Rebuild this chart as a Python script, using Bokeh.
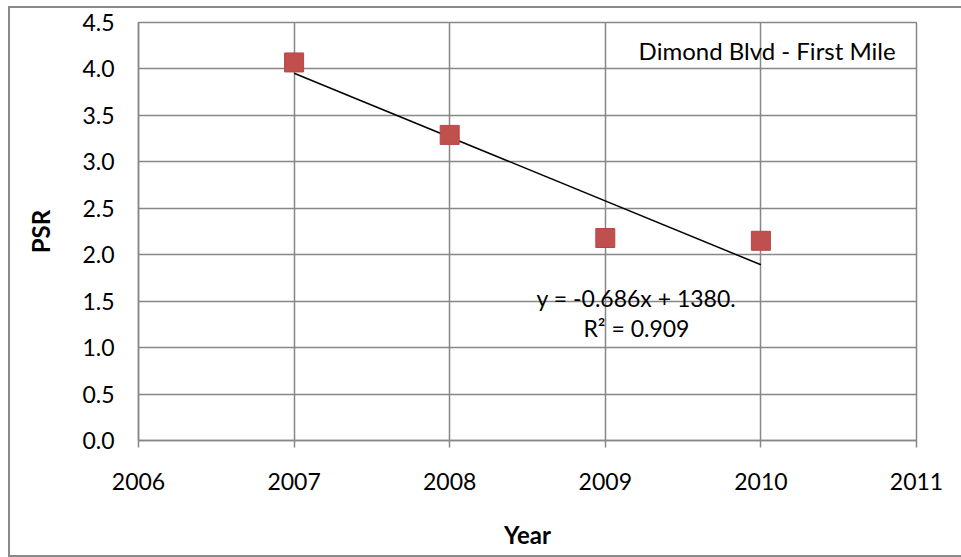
import numpy as np
from bokeh.plotting import figure
from bokeh.models import Label, Range1d, FixedTicker, NumeralTickFormatter
from bokeh.embed import file_html
from bokeh.resources import INLINE

# ---- data ----
years = [2007, 2008, 2009, 2010]
psr = [4.07, 3.29, 2.18, 2.15]
x_ticks = [2006, 2007, 2008, 2009, 2010, 2011]
y_ticks = [0.0, 0.5, 1.0, 1.5, 2.0, 2.5, 3.0, 3.5, 4.0, 4.5]
chart_note = "Dimond Blvd - First Mile"
equation_text = "y = -0.686x + 1380."
r2_text = "R² = 0.909"
x_title = "Year"
y_title = "PSR"

# linear trendline (least squares fit of the series)
slope, intercept = np.polyfit(years, psr, 1)
trend_x = [years[0], years[-1]]
trend_y = [slope * x + intercept for x in trend_x]

FONT = "Lato"
GRID = "#878787"

p = figure(width=956, height=551, output_backend="svg", toolbar_location=None,
           x_range=Range1d(2006, 2011), y_range=Range1d(0, 4.5),
           min_border_left=128, min_border_right=50, min_border_top=14,
           min_border_bottom=119)
p.styles = {"border": "2px solid #8a8a8a", "margin-left": "8px", "margin-top": "6px"}
p.background_fill_color = "white"
p.border_fill_color = "white"
p.outline_line_color = GRID
p.outline_line_width = 1.5

p.xaxis.ticker = FixedTicker(ticks=x_ticks)
p.yaxis.ticker = FixedTicker(ticks=y_ticks)
p.xgrid.ticker = FixedTicker(ticks=x_ticks)
p.ygrid.ticker = FixedTicker(ticks=y_ticks)
for g in (p.xgrid, p.ygrid):
    g.grid_line_color = GRID
    g.grid_line_width = 1.5

p.yaxis.formatter = NumeralTickFormatter(format="0.0")
for ax in (p.xaxis, p.yaxis):
    ax.axis_line_color = GRID
    ax.axis_line_width = 1.5
    ax.major_tick_line_color = GRID
    ax.major_tick_line_width = 1.5
    ax.minor_tick_line_color = None
    ax.major_tick_in = 0
    ax.major_label_text_font = FONT
    ax.major_label_text_font_size = "23px"
    ax.major_label_text_color = "black"
    ax.axis_label_text_font = FONT
    ax.axis_label_text_font_size = "24px"
    ax.axis_label_text_font_style = "bold"
    ax.axis_label_text_color = "black"

p.xaxis.major_tick_out = 7
p.yaxis.major_tick_out = 0
p.xaxis.major_label_standoff = 25
p.yaxis.major_label_standoff = 24
p.xaxis.axis_label = x_title
p.yaxis.axis_label = y_title
p.xaxis.axis_label_standoff = 27
p.yaxis.axis_label_standoff = 24

p.line(trend_x, trend_y, line_color="black", line_width=1.5)
p.scatter(years, psr, marker="square", size=19, fill_color="#C0504D",
          line_color="#B54744", line_width=1)

p.add_layout(Label(x=2010.04, y=4.2, text=chart_note, text_align="center",
                   text_baseline="middle", text_font=FONT,
                   text_font_size="24px", text_color="black"))
p.add_layout(Label(x=2009.2, y=1.53, text=equation_text, text_align="center",
                   text_baseline="middle", text_font=FONT,
                   text_font_size="23px", text_color="black"))
p.add_layout(Label(x=2009.2, y=1.21, text=r2_text, text_align="center",
                   text_baseline="middle", text_font=FONT,
                   text_font_size="23px", text_color="black"))

open("out.html", "w").write(file_html(p, INLINE))
